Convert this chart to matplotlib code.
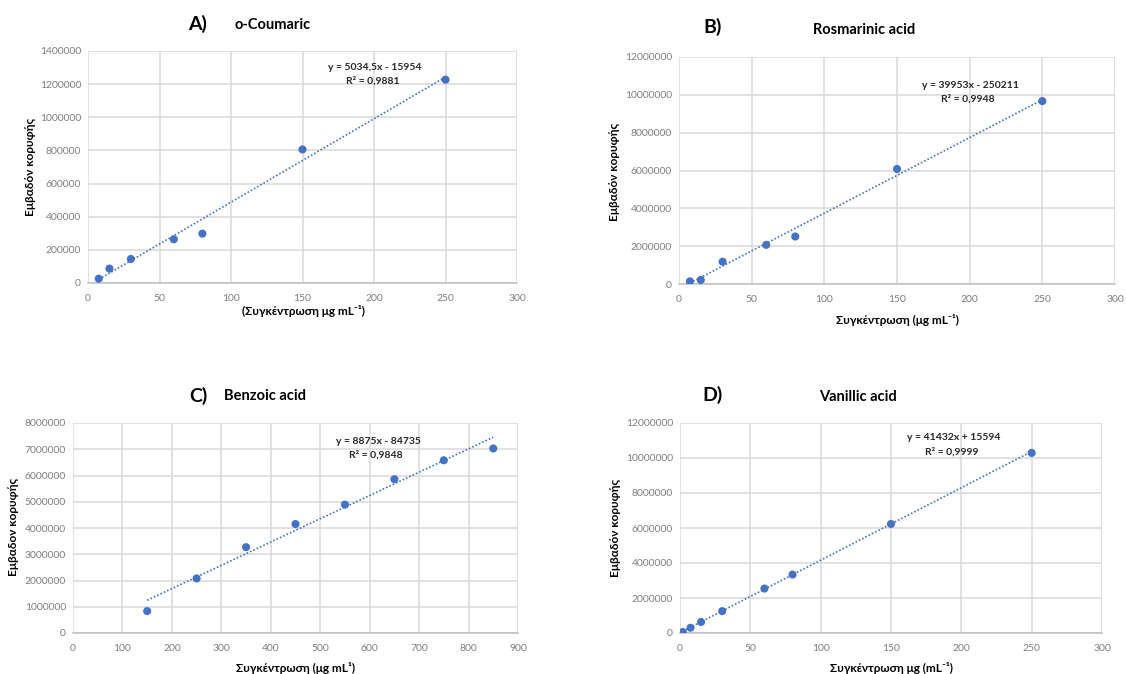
import matplotlib
matplotlib.use("Agg")
import matplotlib.pyplot as plt
import numpy as np
from matplotlib.ticker import MultipleLocator, FuncFormatter

plt.rcParams['font.family'] = ['Lato', 'Open Sans', 'DejaVu Sans']

W, H = 1126, 674

# ---- calibration data -------------------------------------------------
coumaric_x = [7.5, 15, 30, 60, 80, 150, 250]
coumaric_y = [26000, 87000, 145000, 264000, 298000, 806000, 1227000]
coumaric_fit = (5034.5, -15954)
coumaric_eq = "y = 5034,5x - 15954"
coumaric_r2 = "R² = 0,9881"

rosmarinic_x = [7.5, 15, 30, 60, 80, 150, 250]
rosmarinic_y = [140000, 211000, 1180000, 2070000, 2510000, 6080000, 9670000]
rosmarinic_fit = (39953, -250211)
rosmarinic_eq = "y = 39953x - 250211"
rosmarinic_r2 = "R² = 0,9948"

benzoic_x = [150, 250, 350, 450, 550, 650, 750, 850]
benzoic_y = [835000, 2080000, 3270000, 4150000, 4890000, 5860000, 6580000, 7030000]
benzoic_fit = (8875, -84735)
benzoic_eq = "y = 8875x - 84735"
benzoic_r2 = "R² = 0,9848"

vanillic_x = [2, 7.5, 15, 30, 60, 80, 150, 250]
vanillic_y = [57000, 300000, 630000, 1250000, 2540000, 3340000, 6230000, 10290000]
vanillic_fit = (41432, 15594)
vanillic_eq = "y = 41432x + 15594"
vanillic_r2 = "R² = 0,9999"

BLUE = "#4472C4"
GRID = "#d9d9d9"
TICK = "#7f7f7f"


def fx(px):
    return px / W


def fy(py):
    return 1 - py / H


def make_axes(fig, left, right, top, bottom):
    return fig.add_axes([fx(left), fy(bottom), fx(right - left), (bottom - top) / H])


def draw_panel(ax, xs, ys, fit, xmax, xstep, ymax, ystep):
    ax.set_xlim(0, xmax)
    ax.set_ylim(0, ymax)
    ax.xaxis.set_major_locator(MultipleLocator(xstep))
    ax.yaxis.set_major_locator(MultipleLocator(ystep))
    ax.yaxis.set_major_formatter(FuncFormatter(lambda v, p: f"{int(round(v))}"))
    ax.xaxis.set_major_formatter(FuncFormatter(lambda v, p: f"{int(round(v))}"))
    ax.grid(True, color=GRID, linewidth=1.1, zorder=0)
    ax.set_axisbelow(True)
    for s in ("top", "right", "left"):
        ax.spines[s].set_visible(False)
    ax.spines["bottom"].set_color("#bfbfbf")
    ax.spines["bottom"].set_linewidth(1.1)
    ax.tick_params(length=0, labelsize=7.5, labelcolor=TICK)
    ax.tick_params(axis="x", pad=8)
    ax.tick_params(axis="y", pad=5)
    # trend line across the measured range
    a, b = fit
    lx = np.array([min(xs), max(xs)])
    ax.plot(lx, a * lx + b, color=BLUE, linewidth=1.2,
            linestyle=(0, (1, 1.2)), zorder=2)
    ax.scatter(xs, ys, s=34, color=BLUE, zorder=3, edgecolors="none")


fig = plt.figure(figsize=(W / 100, H / 100), dpi=100)

panels = [
    # (left, right, top, bottom), data, limits, letter, name, ylabel, xlabel, letter xy, name xy, ylabel xy, xlabel xy, eq xy
    dict(box=(88, 517, 51, 283), xs=coumaric_x, ys=coumaric_y, fit=coumaric_fit,
         lim=(300, 50, 1400000, 200000), letter="A)", name="o-Coumaric",
         ylabel="Εμβαδόν κορυφής", xlabel="(Συγκέντρωση μg mL⁻¹)",
         lxy=(198, 24), nxy=(273, 25), yl=(31, 167), xl=(303, 311),
         eq=(coumaric_eq, coumaric_r2), exy=(375, 67)),
    dict(box=(679, 1115, 57, 284), xs=rosmarinic_x, ys=rosmarinic_y, fit=rosmarinic_fit,
         lim=(300, 50, 12000000, 2000000), letter="B)", name="Rosmarinic acid",
         ylabel="Εμβαδόν κορυφής", xlabel="Συγκέντρωση (μg mL⁻¹)",
         lxy=(713, 27), nxy=(864, 30), yl=(615, 172), xl=(897, 320),
         eq=(rosmarinic_eq, rosmarinic_r2), exy=(970, 85)),
    dict(box=(73, 518, 423, 633), xs=benzoic_x, ys=benzoic_y, fit=benzoic_fit,
         lim=(900, 100, 8000000, 1000000), letter="C)", name="Benzoic acid",
         ylabel="Εμβαδον κορυφής", xlabel="Συγκέντρωση (μg mL¹)",
         lxy=(198, 396), nxy=(265, 396), yl=(14, 527), xl=(296, 668),
         eq=(benzoic_eq, benzoic_r2), exy=(378, 441)),
    dict(box=(680, 1102, 423, 633), xs=vanillic_x, ys=vanillic_y, fit=vanillic_fit,
         lim=(300, 50, 12000000, 2000000), letter="D)", name="Vanillic acid",
         ylabel="Εμβαδόν κορυφής", xlabel="Συγκέντρωση μg (mL⁻¹)",
         lxy=(713, 395), nxy=(858, 397), yl=(616, 528), xl=(891, 668),
         eq=(vanillic_eq, vanillic_r2), exy=(954, 438)),
]

for p in panels:
    left, right, top, bottom = p["box"]
    ax = make_axes(fig, left, right, top, bottom)
    xmax, xstep, ymax, ystep = p["lim"]
    draw_panel(ax, p["xs"], p["ys"], p["fit"], xmax, xstep, ymax, ystep)

    fig.text(fx(p["lxy"][0]), fy(p["lxy"][1]), p["letter"], fontsize=14,
             fontweight="bold", ha="center", va="center")
    fig.text(fx(p["nxy"][0]), fy(p["nxy"][1]), p["name"], fontsize=10.5,
             fontweight="bold", ha="center", va="center")
    fig.text(fx(p["yl"][0]), fy(p["yl"][1]), p["ylabel"], fontsize=8.5,
             fontweight="bold", rotation=90, ha="center", va="center")
    fig.text(fx(p["xl"][0]), fy(p["xl"][1]), p["xlabel"], fontsize=8.5,
             fontweight="bold", ha="center", va="center")
    ex, ey = p["exy"]
    fig.text(fx(ex), fy(ey), p["eq"][0], fontsize=7.5, fontweight="bold",
             ha="center", va="center", color="#262626")
    fig.text(fx(ex - 2), fy(ey + 14), p["eq"][1], fontsize=7.5, fontweight="bold",
             ha="center", va="center", color="#262626")

fig.savefig("out.png", dpi=100, facecolor="white")
